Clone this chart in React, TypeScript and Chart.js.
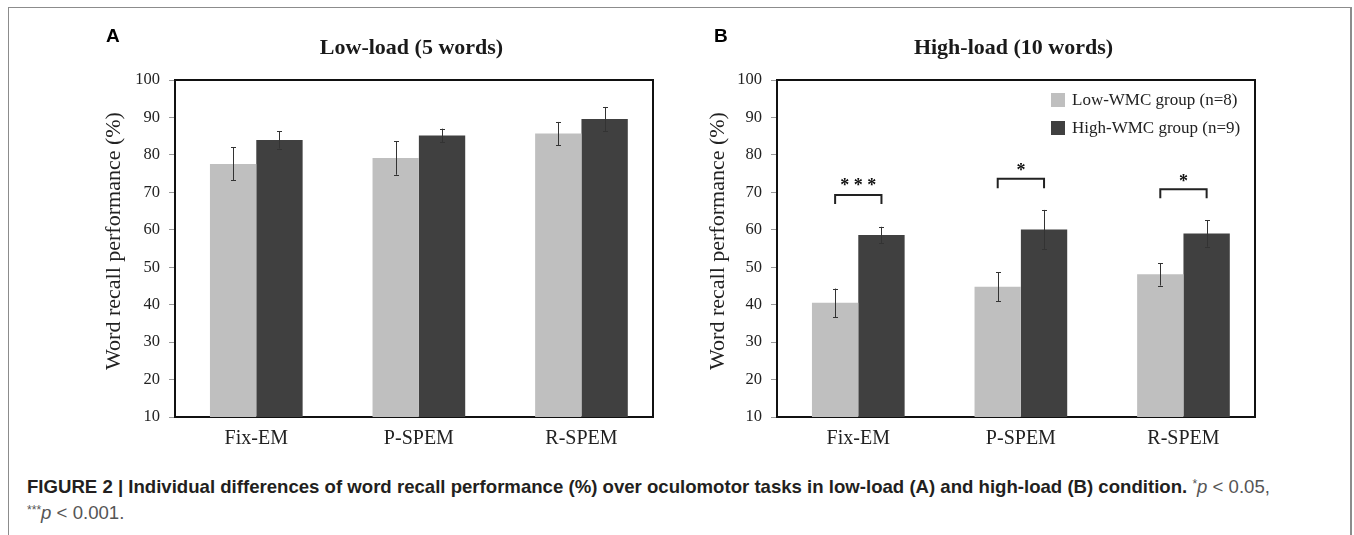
import React, { useEffect, useRef } from 'react';
import { Chart, registerables } from 'chart.js';

Chart.register(...registerables);

// ---------- data ----------
const categories = ['Fix-EM', 'P-SPEM', 'R-SPEM'];
const categoryPositions = [1, 2, 3];
const groupLabels = ['Low-WMC group (n=8)', 'High-WMC group (n=9)'];
const groupColors = ['#bfbfbf', '#404040'];
const yTicks = [10, 20, 30, 40, 50, 60, 70, 80, 90, 100];

const lowLoadLowWMC = [77.6, 79.2, 85.7];
const lowLoadLowWMCErr = [4.4, 4.5, 3.1];
const lowLoadHighWMC = [84.0, 85.2, 89.6];
const lowLoadHighWMCErr = [2.3, 1.8, 3.2];

const highLoadLowWMC = [40.5, 44.8, 48.1];
const highLoadLowWMCErr = [3.8, 3.9, 3.0];
const highLoadHighWMC = [58.6, 60.1, 59.0];
const highLoadHighWMCErr = [2.2, 5.2, 3.5];

const sigLabels = ['* * *', '*', '*'];
const sigBracketTop = [69.3, 73.6, 70.8];
const sigBracketLeg = [66.9, 71.1, 68.4];
const sigStarCenter = [72.5, 76.6, 73.8];

const SERIF = '"Liberation Serif", "Times New Roman", serif';
const SANS = '"Liberation Sans", Arial, Helvetica, sans-serif';

// ---------- plugin ----------
const decorPlugin = {
  id: 'panelDecor',
  afterDatasetsDraw(chart: any) {
    const { ctx, scales } = chart;
    const y = scales.y;
    ctx.save();
    ctx.strokeStyle = '#333';
    ctx.lineWidth = 1;
    chart.data.datasets.forEach((ds: any, di: number) => {
      const meta = chart.getDatasetMeta(di);
      meta.data.forEach((bar: any, i: number) => {
        const v = ds.data[i].y;
        const e = ds.errors[i];
        const x = Math.round(bar.x) + 0.5;
        const t = y.getPixelForValue(v + e);
        const b = y.getPixelForValue(v - e);
        ctx.beginPath();
        ctx.moveTo(x, t);
        ctx.lineTo(x, b);
        ctx.moveTo(x - 2.5, Math.round(t) + 0.5);
        ctx.lineTo(x + 2.5, Math.round(t) + 0.5);
        ctx.moveTo(x - 2.5, Math.round(b) + 0.5);
        ctx.lineTo(x + 2.5, Math.round(b) + 0.5);
        ctx.stroke();
      });
    });
    ctx.restore();
  },
  afterDraw(chart: any, _args: any, opts: any) {
    const { ctx, chartArea: ca, scales } = chart;
    const y = scales.y;
    ctx.save();
    // frame top & right
    ctx.strokeStyle = '#111';
    ctx.lineWidth = 2;
    ctx.beginPath();
    ctx.moveTo(ca.left, ca.top);
    ctx.lineTo(ca.right, ca.top);
    ctx.lineTo(ca.right, ca.bottom);
    ctx.stroke();

    // panel letter
    ctx.fillStyle = '#000';
    ctx.font = `bold 19px ${SANS}`;
    ctx.textAlign = 'left';
    ctx.textBaseline = 'alphabetic';
    ctx.fillText(opts.letter, opts.letterX, 42);

    // title
    ctx.fillStyle = '#1a1a1a';
    ctx.font = `bold 22px ${SERIF}`;
    ctx.textAlign = 'center';
    ctx.fillText(opts.title, (ca.left + ca.right) / 2 - 2.5, 54);

    // y title
    ctx.save();
    ctx.translate(opts.yTitleX, opts.yTitleY);
    ctx.rotate(-Math.PI / 2);
    ctx.font = `22px ${SERIF}`;
    ctx.textAlign = 'center';
    ctx.textBaseline = 'middle';
    ctx.fillStyle = '#222';
    ctx.fillText(opts.yTitle, 0, 0);
    ctx.restore();

    // legend
    if (opts.legend) {
      chart.data.datasets.forEach((ds: any, di: number) => {
        const sx = ca.right - 204;
        const sy = ca.top + 13 + di * 28;
        ctx.fillStyle = ds.backgroundColor;
        ctx.fillRect(sx, sy, 14, 14);
        ctx.fillStyle = '#222';
        ctx.font = `17px ${SERIF}`;
        ctx.textAlign = 'left';
        ctx.textBaseline = 'middle';
        ctx.fillText(ds.label, ca.right - 183, sy + 8);
      });
    }

    // significance brackets
    if (opts.sig) {
      const m0 = chart.getDatasetMeta(0);
      const m1 = chart.getDatasetMeta(1);
      ctx.strokeStyle = '#222';
      ctx.lineWidth = 2;
      sigLabels.forEach((lab, i) => {
        const x1 = m0.data[i].x;
        const x2 = m1.data[i].x;
        const yt = y.getPixelForValue(sigBracketTop[i]);
        const yl = y.getPixelForValue(sigBracketLeg[i]);
        ctx.beginPath();
        ctx.moveTo(x1, yl);
        ctx.lineTo(x1, yt);
        ctx.lineTo(x2, yt);
        ctx.lineTo(x2, yl);
        ctx.stroke();
        ctx.fillStyle = '#111';
        ctx.font = `bold 18px ${SERIF}`;
        ctx.textAlign = 'center';
        ctx.textBaseline = 'alphabetic';
        ctx.fillText(lab, (x1 + x2) / 2, y.getPixelForValue(sigStarCenter[i]) + 8.5);
      });
    }
    ctx.restore();
  },
};

// ---------- panel ----------
type PanelProps = {
  left: number;
  width: number;
  padLeft: number;
  padRight: number;
  low: number[];
  lowErr: number[];
  high: number[];
  highErr: number[];
  letter: string;
  letterX: number;
  title: string;
  yTitleX: number;
  yTitleY: number;
  legend: boolean;
  sig: boolean;
};

function Panel(p: PanelProps) {
  const ref = useRef<HTMLCanvasElement | null>(null);
  useEffect(() => {
    if (!ref.current) return;
    const chart = new Chart(ref.current, {
      type: 'bar',
      data: {
        datasets: [
          {
            label: groupLabels[0],
            data: categoryPositions.map((x, i) => ({ x, y: p.low[i] })),
            backgroundColor: groupColors[0],
            errors: p.lowErr,
          } as any,
          {
            label: groupLabels[1],
            data: categoryPositions.map((x, i) => ({ x, y: p.high[i] })),
            backgroundColor: groupColors[1],
            errors: p.highErr,
          } as any,
        ],
      },
      options: {
        animation: false,
        responsive: false,
        events: [],
        layout: { padding: { left: p.padLeft, right: p.padRight, top: 80, bottom: 0 } },
        datasets: { bar: { categoryPercentage: 0.57, barPercentage: 1.0 } },
        scales: {
          x: {
            type: 'linear',
            offset: false,
            min: 0.5,
            max: 3.44,
            grid: { display: false, drawTicks: false, offset: false },
            border: { display: true, color: '#111', width: 2 },
            afterBuildTicks: (s: any) => {
              s.ticks = categoryPositions.map((v) => ({ value: v }));
            },
            afterFit: (s: any) => {
              s.height = 43;
            },
            ticks: {
              autoSkip: false,
              maxRotation: 0,
              padding: 10,
              color: '#222',
              font: { family: SERIF, size: 20 },
              callback: (v: any) => {
                const idx = categoryPositions.indexOf(Number(v));
                return idx >= 0 ? categories[idx] : '';
              },
            },
          },
          y: {
            min: yTicks[0],
            max: yTicks[yTicks.length - 1],
            grid: { drawOnChartArea: false, drawTicks: true, tickLength: 6, color: '#999' },
            border: { display: true, color: '#111', width: 2 },
            afterBuildTicks: (s: any) => {
              s.ticks = yTicks.map((v) => ({ value: v }));
            },
            afterFit: (s: any) => {
              s.width = 40;
            },
            ticks: {
              padding: 9,
              color: '#222',
              font: { family: SERIF, size: 16.5 },
            },
          },
        },
        plugins: {
          legend: { display: false },
          tooltip: { enabled: false },
          title: { display: false },
          panelDecor: {
            letter: p.letter,
            letterX: p.letterX,
            title: p.title,
            yTitle: 'Word recall performance (%)',
            yTitleX: p.yTitleX,
            yTitleY: p.yTitleY,
            legend: p.legend,
            sig: p.sig,
          },
        } as any,
      },
      plugins: [decorPlugin],
    } as any);
    return () => chart.destroy();
  }, []);
  return (
    <canvas
      ref={ref}
      width={p.width}
      height={460}
      style={{ position: 'absolute', left: p.left, top: 0, width: p.width, height: 460 }}
    />
  );
}

export default function App() {
  return (
    <div
      style={{
        position: 'absolute',
        left: 0,
        top: 0,
        width: 1354,
        height: 535,
        overflow: 'hidden',
        background: '#fff',
      }}
    >
      <div
        style={{
          position: 'absolute',
          left: 8,
          top: 7,
          width: 1341,
          height: 600,
          borderTop: '1px solid #8c8c8c',
          borderLeft: '1px solid #8c8c8c',
          borderRight: '2px solid #8c8c8c',
        }}
      />
      <Panel
        left={0}
        width={677}
        padLeft={135}
        padRight={24}
        low={lowLoadLowWMC}
        lowErr={lowLoadLowWMCErr}
        high={lowLoadHighWMC}
        highErr={lowLoadHighWMCErr}
        letter="A"
        letterX={106}
        title="Low-load (5 words)"
        yTitleX={114}
        yTitleY={241}
        legend={false}
        sig={false}
      />
      <Panel
        left={677}
        width={677}
        padLeft={60}
        padRight={99}
        low={highLoadLowWMC}
        lowErr={highLoadLowWMCErr}
        high={highLoadHighWMC}
        highErr={highLoadHighWMCErr}
        letter="B"
        letterX={37}
        title="High-load (10 words)"
        yTitleX={41}
        yTitleY={241}
        legend={true}
        sig={true}
      />
      <div
        style={{
          position: 'absolute',
          left: 27,
          top: 475,
          fontFamily: SANS,
          fontSize: 18.6,
          lineHeight: '23px',
          color: '#231f20',
          whiteSpace: 'nowrap',
        }}
      >
        <div>
          <b>
            FIGURE 2 | Individual differences of word recall performance (%) over oculomotor tasks in
            low-load (A) and high-load (B) condition.
          </b>{' '}
          <span style={{ color: '#555' }}>
            <span style={{ fontSize: '0.65em', position: 'relative', top: '-0.45em' }}>*</span>
            <i>p</i> &lt; 0.05,
          </span>
        </div>
        <div style={{ color: '#555' }}>
          <span style={{ fontSize: '0.65em', position: 'relative', top: '-0.45em' }}>***</span>
          <i>p</i> &lt; 0.001.
        </div>
      </div>
    </div>
  );
}
